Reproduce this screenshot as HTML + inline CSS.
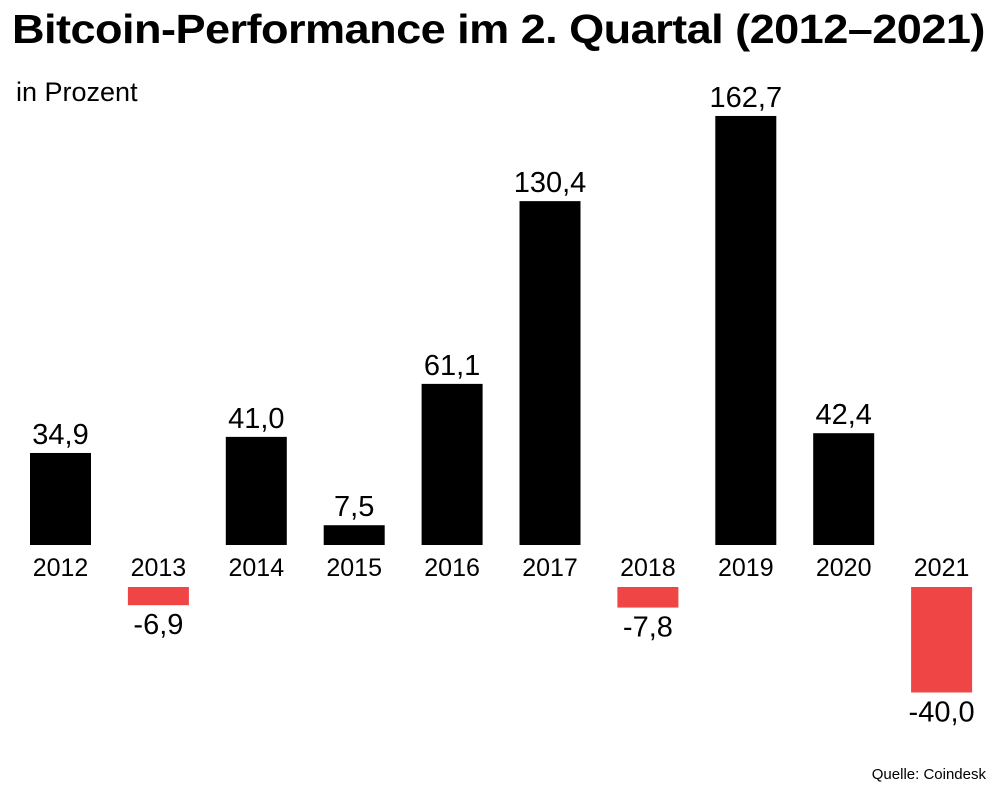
<!DOCTYPE html>
<html><head><meta charset="utf-8"><style>
body{margin:0;background:#fff;width:1000px;height:794px;overflow:hidden;font-family:"Liberation Sans",sans-serif}
#t{position:absolute;left:12px;top:6px;font-size:41px;font-weight:bold;letter-spacing:-0.5px;margin:0;white-space:nowrap;transform:scaleX(1.1);transform-origin:left top}
#s{position:absolute;left:16px;top:77px;font-size:27px}
#src{position:absolute;right:14px;top:766px;font-size:15px}
svg{position:absolute;left:0;top:0}
</style></head><body>
<h1 id="t">Bitcoin-Performance im 2. Quartal (2012–2021)</h1>
<div id="s">in Prozent</div>
<div id="src">Quelle: Coindesk</div>
<svg id="c" width="1000" height="794"></svg>
<script>
const years=["2012","2013","2014","2015","2016","2017","2018","2019","2020","2021"];
const values=[34.9,-6.9,41.0,7.5,61.1,130.4,-7.8,162.7,42.4,-40.0];
const labels=["34,9","-6,9","41,0","7,5","61,1","130,4","-7,8","162,7","42,4","-40,0"];
const svg=document.getElementById('c');
const NS='http://www.w3.org/2000/svg';
const k=2.637, posBase=545, negBase=587, bw=61;
const xs=i=>30+i*97.9;
function mk(t,a){const e=document.createElementNS(NS,t);for(const n in a)e.setAttribute(n,a[n]);svg.appendChild(e);return e;}
years.forEach((y,i)=>{
  const v=values[i],x=xs(i),h=Math.abs(v)*k;
  const r=mk('rect',{x:x,y:v>=0?posBase-h:negBase,width:bw,height:h,fill:v>=0?'#000':'#f04545'});
  
  
  const yl=mk('text',{x:x+bw/2,y:576,'text-anchor':'middle','font-size':25,fill:'#000'});
  yl.textContent=y;
  
  
  const vl=mk('text',{x:x+bw/2,y:v>=0?posBase-h-9:negBase+h+29,'text-anchor':'middle','font-size':29,fill:'#000'});
  vl.textContent=labels[i];
  
  
});
</script>
</body></html>
